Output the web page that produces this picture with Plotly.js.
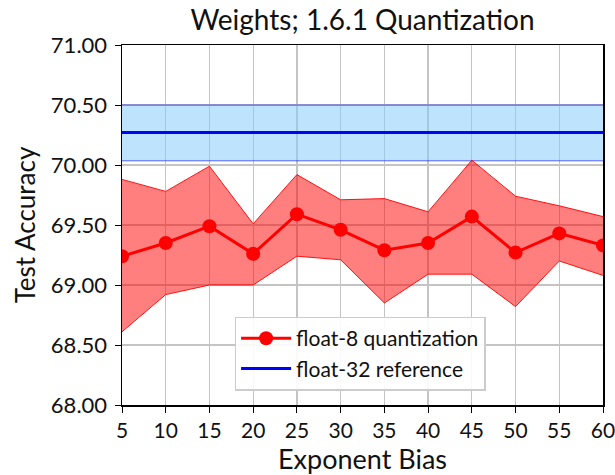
<!DOCTYPE html>
<html>
<head>
<meta charset="utf-8">
<script src="https://cdn.plot.ly/plotly-3.0.1.min.js"></script>
<style>html,body{margin:0;padding:0;background:#fff;}#chart{width:615px;height:475px;}</style>
</head>
<body>
<div id="chart"></div>
<script>
const exponentBias = [5, 10, 15, 20, 25, 30, 35, 40, 45, 50, 55, 60];
const float8Mean  = [69.24, 69.35, 69.49, 69.26, 69.59, 69.46, 69.29, 69.35, 69.57, 69.27, 69.43, 69.33];
const float8Upper = [69.88, 69.78, 69.99, 69.51, 69.92, 69.71, 69.72, 69.61, 70.04, 69.74, 69.66, 69.57];
const float8Lower = [68.61, 68.92, 69.00, 69.00, 69.24, 69.21, 68.85, 69.09, 69.09, 68.82, 69.20, 69.08];
const float32Mean = 70.27;
const float32Upper = 70.50;
const float32Lower = 70.035;
const yTicks = [68.0, 68.5, 69.0, 69.5, 70.0, 70.5, 71.0];

const FONT = "Lato, 'DejaVu Sans', sans-serif";
const refX = [exponentBias[0], exponentBias[exponentBias.length - 1]];

const traces = [
  {x: refX, y: refX.map(() => float32Upper), mode: 'lines', line: {color: 'rgba(0,0,255,0.6)', width: 1}, showlegend: false, hoverinfo: 'skip'},
  {x: refX, y: refX.map(() => float32Lower), mode: 'lines', line: {color: 'rgba(0,0,255,0.6)', width: 1}, fill: 'tonexty', fillcolor: 'rgba(135,206,250,0.55)', showlegend: false, hoverinfo: 'skip'},
  {x: exponentBias, y: float8Upper, mode: 'lines', line: {color: 'rgba(255,0,0,0.9)', width: 1}, showlegend: false, hoverinfo: 'skip'},
  {x: exponentBias, y: float8Lower, mode: 'lines', line: {color: 'rgba(255,0,0,0.9)', width: 1}, fill: 'tonexty', fillcolor: 'rgba(255,0,0,0.5)', showlegend: false, hoverinfo: 'skip'},
  {x: exponentBias, y: float8Mean, mode: 'lines+markers', name: 'float-8 quantization', line: {color: '#ff0000', width: 3}, marker: {color: '#ff0000', size: 14}},
  {x: refX, y: refX.map(() => float32Mean), mode: 'lines', name: 'float-32 reference', line: {color: '#0000ff', width: 3}}
];

const layout = {
  width: 615, height: 475,
  margin: {l: 122, r: 12, t: 45, b: 70},
  paper_bgcolor: '#fff', plot_bgcolor: '#fff',
  font: {family: FONT, color: '#111', size: 21},
  title: {text: 'Weights; 1.6.1 Quantization', font: {family: FONT, size: 28, color: '#111'},
          xref: 'paper', x: 0.5, xanchor: 'center', yref: 'container', y: 0.978, yanchor: 'top'},
  xaxis: {
    range: [5, 60], tickvals: exponentBias, ticktext: exponentBias.map(String),
    showgrid: true, gridcolor: '#c4c4c4', gridwidth: 1.3,
    showline: true, linecolor: '#000', linewidth: 1.5, mirror: true,
    ticks: 'outside', ticklen: 6, tickcolor: '#000', zeroline: false,
    tickfont: {size: 21}, ticklabeloverflow: 'allow',
    title: {text: 'Exponent Bias', font: {size: 27}, standoff: 2}
  },
  yaxis: {
    range: [68, 71], tickvals: yTicks, ticktext: yTicks.map(v => v.toFixed(2)),
    showgrid: true, gridcolor: '#c4c4c4', gridwidth: 1.3,
    showline: true, linecolor: '#000', linewidth: 1.5, mirror: true,
    ticks: 'outside', ticklen: 6, tickcolor: '#000', zeroline: false,
    tickfont: {size: 22}, ticklabelstandoff: 3, ticklabeloverflow: 'allow',
    title: {text: 'Test Accuracy', font: {size: 26}, standoff: 8}
  },
  legend: {
    x: 0.495, xanchor: 'center', y: 0.04, yanchor: 'bottom',
    bgcolor: 'rgba(255,255,255,0.9)', bordercolor: '#cccccc', borderwidth: 1.5,
    font: {size: 21}, itemwidth: 50, tracegroupgap: 0, traceorder: 'normal'
  },
  showlegend: true
};

Plotly.newPlot('chart', traces, layout, {displayModeBar: false, staticPlot: true});
</script>
</body>
</html>
